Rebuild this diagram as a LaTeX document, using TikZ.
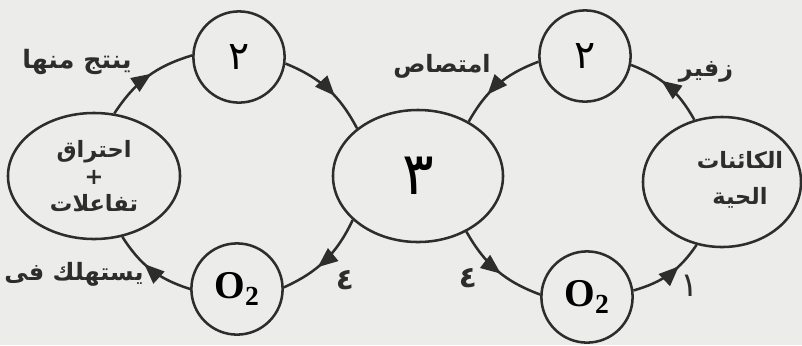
\documentclass[tikz,border=0pt]{standalone}
\usepackage{fontspec}
\setmainfont{Liberation Serif}
\newfontfamily\arabicfont[Script=Arabic]{DejaVu Sans}
\TeXXeTstate=1
\usetikzlibrary{shapes.geometric,arrows.meta,decorations.markings}
\definecolor{ink}{RGB}{45,45,45}
\definecolor{paper}{RGB}{236,236,234}
\newcommand{\afs}[1]{\arabicfont\bfseries\fontsize{#1}{#1}\selectfont}
\newcommand{\afr}[1]{\arabicfont\fontsize{#1}{#1}\selectfont}
\begin{document}
\begin{tikzpicture}[x=0.025cm,y=-0.025cm,
  circ/.style={circle, draw=ink, line width=1.8pt, fill=paper, minimum size=2.28cm, inner sep=0pt},
  ell/.style={ellipse, draw=ink, line width=1.8pt, fill=paper, inner sep=0pt},
  lbl/.style={inner sep=0pt, text=ink},
  flow/.style={draw=ink, color=ink, line width=1.8pt, postaction={decorate},
    decoration={markings, mark=at position #1 with {\arrow{Triangle[length=0.5cm,width=0.4cm]}}}}]
\fill[paper] (0,0) rectangle (802,345);
\useasboundingbox (0,0) rectangle (802,345);
% nodes
\node[ell, minimum width=4.3cm, minimum height=3.15cm, align=center, text=ink,
  font=\arabicfont\bfseries\fontsize{16}{19}\selectfont] (L) at (94,176)
  {\beginR احتراق\endR\\ +\\ \beginR تفاعلات\endR};
\node[circ] (T1) at (239,57) {{\afr{28}\beginR ٢\endR}};
\node[circ] (O1) at (237,289) {\textbf{\fontsize{28}{30}\selectfont O\textsubscript{2}}};
\node[ell, minimum width=4.25cm, minimum height=3.3cm] (C) at (418,176) {{\afr{42}\beginR ٣\endR}};
\node[circ] (T2) at (585,56) {{\afr{28}\beginR ٢\endR}};
\node[circ] (O2) at (587,297) {\textbf{\fontsize{28}{30}\selectfont O\textsubscript{2}}};
\node[ell, minimum width=3.95cm, minimum height=3.25cm] (E) at (722,182) {};
\node[lbl, align=center, font=\arabicfont\bfseries\fontsize{16}{26}\selectfont] (Et) at (740,180)
  {\beginR الكائنات\endR\\ \beginR الحية\endR};
% labels
\node[lbl] (l1) at (77,62) {\afs{18}\beginR ينتج منها\endR};
\node[lbl] (l2) at (74,274) {\afs{17}\beginR يستهلك فى\endR};
\node[lbl] (l3) at (345,280) {\afs{21}\beginR ٤\endR};
\node[lbl] (l4) at (468,278) {\afs{21}\beginR ٤\endR};
\node[lbl] (l5) at (442,66) {\afs{17}\beginR امتصاص\endR};
\node[lbl] (l6) at (706,72) {\afs{17}\beginR زفير\endR};
\node[lbl] (l7) at (690,286) {\afr{24}\beginR ١\endR};
% connectors
\draw[flow=0.55] (L.72) to[bend left=20] (T1.178);
\draw[flow=0.6] (T1.-8) to[bend left=20] (C.142);
\draw[flow=0.6] (C.214) to[bend left=20] (O1.2);
\draw[flow=0.6] (O1.180) to[bend left=20] (L.-65);
\draw[flow=0.55] (C.-49) to[bend right=20] (O2.177);
\draw[flow=0.65] (O2.8) to[bend right=20] (E.248);
\draw[flow=0.6] (E.114) to[bend right=20] (T2.-11);
\draw[flow=0.65] (T2.187) to[bend right=20] (C.47);
\end{tikzpicture}
\end{document}
